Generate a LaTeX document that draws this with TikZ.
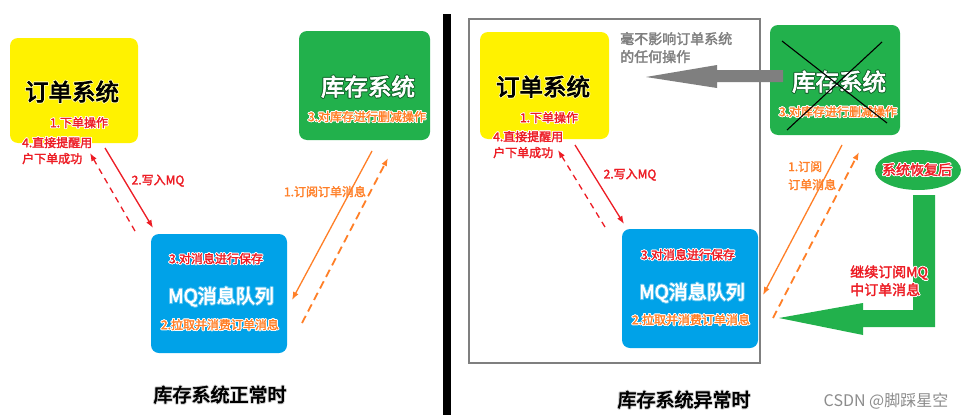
\documentclass[tikz,border=0pt]{standalone}
\usepackage{fontspec}
\setmainfont{Noto Sans CJK SC}
\newfontfamily\bcjk{Noto Sans CJK SC}[FakeBold=2.2]
\newfontfamily\hcjk{Noto Sans CJK SC}[FakeBold=3.2]
\newfontfamily\rcjk{Noto Sans CJK SC}
\usepackage[copies]{contour}
\contourlength{0.8pt}
\usetikzlibrary{arrows.meta,shapes.geometric}
\definecolor{cyel}{HTML}{FFF200}
\definecolor{cgrn}{HTML}{22B14C}
\definecolor{cblu}{HTML}{00A2E8}
\definecolor{cred}{HTML}{ED1C24}
\definecolor{corg}{HTML}{FF7F27}
\definecolor{cgry}{HTML}{7F7F7F}
\newcommand\glow[3]{\textcolor{#1}{\contour{#2}{#3}}}
\begin{document}
\begin{tikzpicture}[x=1pt,y=-1pt,
  panel/.style={rounded corners=8pt, draw=none, inner sep=0pt},
  ybox/.style={panel, fill=cyel},
  gbox/.style={panel, fill=cgrn},
  bbox/.style={panel, fill=cblu},
  big/.style={inner sep=0pt, font=\hcjk\fontsize{23.5}{26}\selectfont},
  mq/.style={inner sep=0pt, font=\hcjk\fontsize{19}{22}\selectfont},
  lbl/.style={inner sep=0pt, font=\bcjk\fontsize{12}{14}\selectfont},
  mid/.style={inner sep=0pt, font=\bcjk\fontsize{14}{16}\selectfont},
  captxt/.style={inner sep=0pt, font=\hcjk\fontsize{19}{22}\selectfont},
  redarr/.style={draw=cred, line width=1.3pt, -{Latex[length=8pt,width=6pt]}},
  reddash/.style={redarr, dash pattern=on 6pt off 5pt},
  orgarr/.style={draw=corg, line width=1.3pt, -{Latex[length=8pt,width=6pt]}},
  orgdash/.style={orgarr, line width=1.8pt, dash pattern=on 8pt off 5pt},
]
\useasboundingbox (0,0) rectangle (968,415);
\fill[white] (0,0) rectangle (968,415);

% divider and frame
\fill[black] (443,14) rectangle (451,415);
\draw[cgry, line width=2.5pt] (469,19) rectangle (760,363);

% ---------------- left panel ----------------
\node[ybox, minimum width=128, minimum height=105] (ordL) at (74,90.5) {};
\node[bbox, minimum width=136, minimum height=119] (mqL) at (219,293.5) {};
\node[gbox, minimum width=131, minimum height=109] (invL) at (364.5,85.5) {};

\node[big] (ordLt) at (72,92) {\glow{black}{white!60!cyel}{订单系统}};
\node[lbl] (ordLa) at (79,123) {\glow{cred}{white}{1.下单操作}};
\node[lbl, anchor=west] (ordLb) at (22,143) {\glow{cred}{white}{4.直接提醒用}};
\node[lbl, anchor=west] (ordLc) at (22,159) {\glow{cred}{white}{户下单成功}};
\node[lbl] (wrL) at (158,181) {\glow{cred}{white}{2.写入MQ}};

\node[lbl] (mqLa) at (216,259) {\glow{cred}{white}{3.对消息进行保存}};
\node[mq] (mqLt) at (221,297) {\glow{white}{cblu!70!white}{MQ消息队列}};
\node[lbl] (mqLb) at (220,325) {\glow{corg}{white}{2.拉取并消费订单消息}};

\node[big] (invLt) at (368,87) {\glow{white}{cgrn!60!black}{库存系统}};
\node[lbl] (invLa) at (367,117) {\glow{corg}{white}{3.对库存进行删减操作}};
\node[lbl] (subL) at (325,192) {\glow{corg}{white}{1.订阅订单消息}};

\coordinate (aL1s) at (105,148); \coordinate (aL1e) at (153,228);
\coordinate (aL2s) at (135,231); \coordinate (aL2e) at (90,153);
\coordinate (aL3s) at (372,151); \coordinate (aL3e) at (292,300);
\coordinate (aL4s) at (302,323); \coordinate (aL4e) at (388,158);
\draw[redarr] (aL1s) -- (aL1e);
\draw[reddash] (aL2s) -- (aL2e);
\draw[orgarr] (aL3s) -- (aL3e);
\draw[orgdash] (aL4s) -- (aL4e);

\node[captxt] (capL) at (220,395) {\glow{black}{black!15}{库存系统正常时}};

% ---------------- right panel ----------------
\node[ybox, minimum width=129, minimum height=107] (ordR) at (544.5,85.5) {};
\node[bbox, minimum width=136, minimum height=119] (mqR) at (690,288.5) {};
\node[gbox, minimum width=130, minimum height=110] (invR) at (835,80) {};

\node[big] (ordRt) at (543,87) {\glow{black}{white!60!cyel}{订单系统}};
\node[lbl] (ordRa) at (549,118) {\glow{cred}{white}{1.下单操作}};
\node[lbl, anchor=west] (ordRb) at (493,137) {\glow{cred}{white}{4.直接提醒用}};
\node[lbl, anchor=west] (ordRc) at (493,153) {\glow{cred}{white}{户下单成功}};
\node[lbl] (wrR) at (630,175) {\glow{cred}{white}{2.写入MQ}};

\node[mid, anchor=west] (noteA) at (620,39) {\glow{cgry}{white}{毫不影响订单系统}};
\node[mid, anchor=west] (noteB) at (620,57) {\glow{cgry}{white}{的任何操作}};

\node[lbl] (mqRa) at (688,255) {\glow{cred}{white}{3.对消息进行保存}};
\node[mq] (mqRt) at (692,293) {\glow{white}{cblu!70!white}{MQ消息队列}};
\node[lbl] (mqRb) at (691,320) {\glow{corg}{white}{2.拉取并消费订单消息}};

\node[big] (invRt) at (839,82) {\glow{white}{cgrn!60!black}{库存系统}};
\node[lbl] (invRa) at (838,112) {\glow{corg}{white}{3.对库存进行删减操作}};
\draw[black, line width=1.1pt] (782,41) -- (887,123);
\draw[black, line width=1.1pt] (882,42) -- (787,130);

% gray arrow
\fill[cgry] (646,77) -- (717,65) -- (717,70) -- (783,70) -- (783,82) -- (717,82) -- (717,88) -- cycle;

\node[lbl, anchor=west] (subRa) at (788,167) {\glow{corg}{white}{1.订阅}};
\node[lbl, anchor=west] (subRb) at (788,185) {\glow{corg}{white}{订单消息}};

\coordinate (aR1s) at (575,145); \coordinate (aR1e) at (624,224);
\coordinate (aR2s) at (605,227); \coordinate (aR2e) at (558,150);
\coordinate (aR3s) at (842,145); \coordinate (aR3e) at (763,295);
\coordinate (aR4s) at (773,318); \coordinate (aR4e) at (859,152);
\draw[redarr] (aR1s) -- (aR1e);
\draw[reddash] (aR2s) -- (aR2e);
\draw[orgarr] (aR3s) -- (aR3e);
\draw[orgdash] (aR4s) -- (aR4e);

% recovery
\node[ellipse, fill=cgrn, minimum width=86, minimum height=40, inner sep=0pt] (rec) at (918,170) {};
\node[mid] (rect) at (917,170) {\glow{cred}{white}{系统恢复后}};
\fill[cgrn] (913,195) -- (935,195) -- (935,327) -- (863,327) -- (863,335) -- (779,318) -- (863,303) -- (863,310) -- (913,310) -- cycle;
\node[mid, anchor=west] (contA) at (850,273) {\glow{cred}{white}{继续订阅MQ}};
\node[mid, anchor=west] (contB) at (850,290) {\glow{cred}{white}{中订单消息}};

\node[captxt] (capR) at (684,400) {\glow{black}{black!15}{库存系统异常时}};
\node[inner sep=0pt, font=\rcjk\fontsize{16}{18}\selectfont, text=black!45] (wm) at (886,401) {CSDN @脚踩星空};
\end{tikzpicture}
\end{document}
